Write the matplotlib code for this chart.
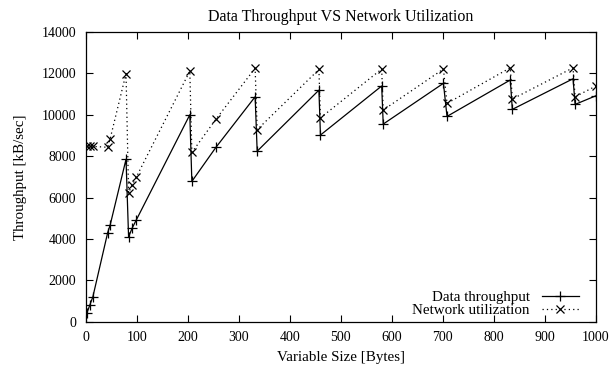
import matplotlib
matplotlib.use("Agg")
import matplotlib.pyplot as plt

plt.rcParams['font.family'] = ['Liberation Serif', 'DejaVu Serif']

var_size = [2, 8, 14, 43, 48, 79, 84, 91, 99, 204, 208, 255, 332, 336,
            457, 460, 580, 583, 701, 708, 832, 836, 955, 959, 1000]
data_throughput = [400, 800, 1200, 4300, 4680, 7850, 4100, 4520, 4910,
                   10000, 6780, 8420, 10870, 8240, 11190, 9020, 11390, 9550,
                   11520, 9920, 11680, 10260, 11740, 10500, 10920]
network_util = [8470, 8470, 8470, 8430, 8850, 11990, 6230, 6600, 6980,
                12110, 8180, 9780, 12250, 9280, 12190, 9850, 12210, 10230,
                12210, 10550, 12270, 10760, 12270, 10870, 11390]

xticks = list(range(0, 1001, 100))
yticks = list(range(0, 14001, 2000))

fig = plt.figure(figsize=(6.14, 3.69), dpi=100)
ax = fig.add_axes([0.1396, 0.1282, 0.8311, 0.7851])

ax.plot(var_size, data_throughput, color='black', linewidth=0.9,
        marker='+', markersize=6.5, markeredgewidth=0.9, label='Data throughput')
ax.plot(var_size, network_util, color='black', linewidth=0.9,
        linestyle=(0, (1, 2.5)), marker='x', markersize=5.8,
        markeredgewidth=0.9, label='Network utilization')

ax.set_xlim(0, 1000)
ax.set_ylim(0, 14000)
ax.set_xticks(xticks)
ax.set_yticks(yticks)
ax.tick_params(direction='in', length=5, width=0.8, top=True, right=True,
               labelsize=10, pad=7)
for s in ax.spines.values():
    s.set_linewidth(0.9)

ax.set_title('Data Throughput VS Network Utilization', fontsize=11.5, pad=8)
ax.set_xlabel('Variable Size [Bytes]', fontsize=10.8, labelpad=5)
ax.set_ylabel('Throughput [kB/sec]', fontsize=10.8, labelpad=10)

ax.legend(loc='lower right', bbox_to_anchor=(0.967, 0.015), frameon=False,
          markerfirst=False, handlelength=2.5, handletextpad=0.8,
          labelspacing=0.0, borderpad=0, borderaxespad=0, fontsize=10.8)

fig.savefig('out.png', dpi=100)
